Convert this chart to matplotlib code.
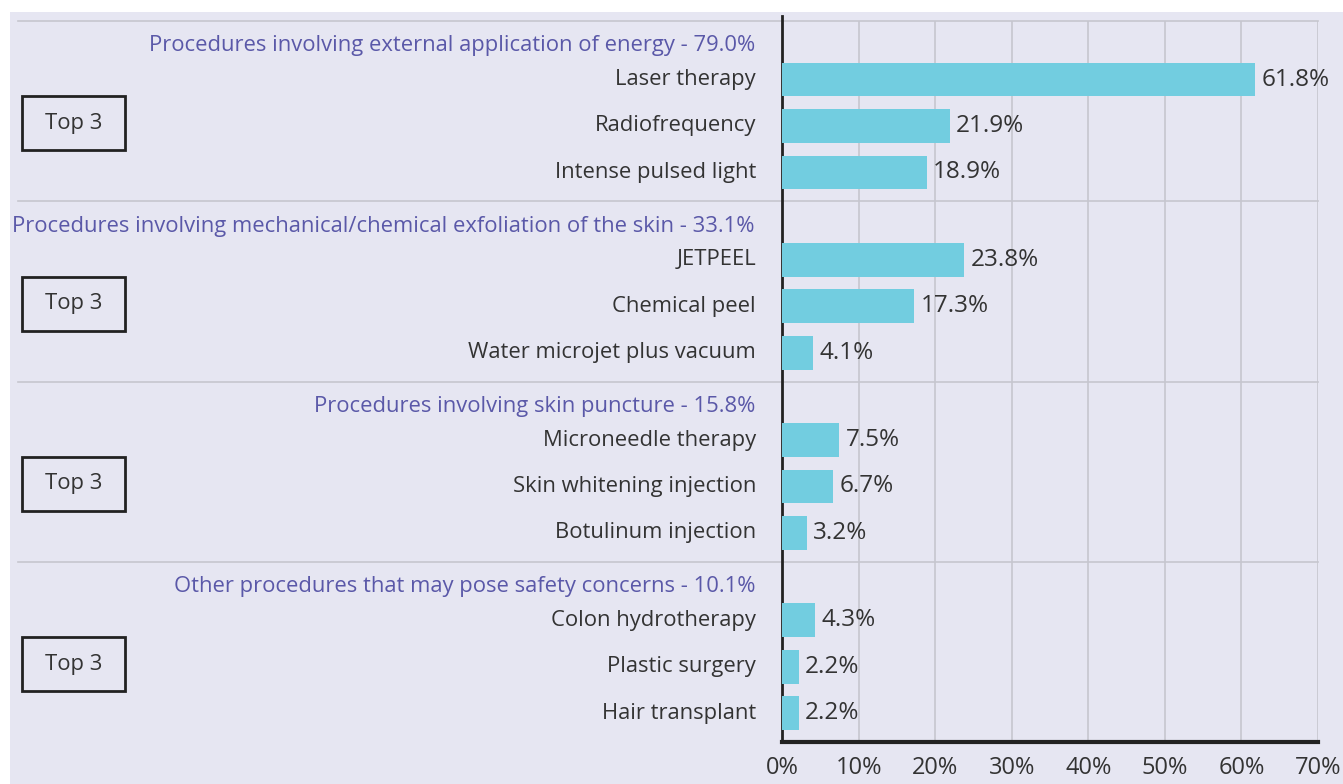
import matplotlib.pyplot as plt
from matplotlib.patches import Rectangle
from matplotlib.transforms import blended_transform_factory

plt.rcParams['font.family'] = ['Open Sans', 'DejaVu Sans']

group_names = ["Procedures involving external application of energy",
               "Procedures involving mechanical/chemical exfoliation of the skin",
               "Procedures involving skin puncture",
               "Other procedures that may pose safety concerns"]
group_pct = [79.0, 33.1, 15.8, 10.1]
items = [["Laser therapy", "Radiofrequency", "Intense pulsed light"],
         ["JETPEEL", "Chemical peel", "Water microjet plus vacuum"],
         ["Microneedle therapy", "Skin whitening injection", "Botulinum injection"],
         ["Colon hydrotherapy", "Plastic surgery", "Hair transplant"]]
values = [[61.8, 21.9, 18.9],
          [23.8, 17.3, 4.1],
          [7.5, 6.7, 3.2],
          [4.3, 2.2, 2.2]]
xticks = [0, 10, 20, 30, 40, 50, 60, 70]

W, H = 1343, 784
bar_color = '#72cde0'
head_color = '#5a58a8'
text_color = '#333333'
grid_color = '#c6c6ce'
fs = 15.8

fig = plt.figure(figsize=(W / 100, H / 100), dpi=100, facecolor='white')
# lavender panel
fig.add_artist(Rectangle((10 / W, 0), 1 - 10 / W, (H - 12) / H, transform=fig.transFigure,
                         facecolor='#e6e6f2', edgecolor='none', zorder=0))

ax = fig.add_axes([782 / W, 1 - 742 / H, (1318 - 782) / W, (742 - 21) / H])
ax.set_facecolor('none')
ax.set_xlim(0, 70)
ax.set_ylim(16, 0)

lbl_tr = blended_transform_factory(fig.transFigure, ax.transData)
for g in range(4):
    base = 4 * g
    ypos = [base + 1.3, base + 2.33, base + 3.36]
    ax.barh(ypos, values[g], height=0.75, color=bar_color, zorder=3)
    for y, v, name in zip(ypos, values[g], items[g]):
        ax.text(v + 0.8, y, f"{v:.1f}%", va='center', ha='left', fontsize=17.5, color=text_color)
        ax.text(756 / W, y, name, transform=lbl_tr, va='center', ha='right',
                fontsize=fs, color=text_color)
    ax.text(755 / W, base + 0.55, f"{group_names[g]} - {group_pct[g]:.1f}%", transform=lbl_tr,
            va='center', ha='right', fontsize=15.8, color=head_color)
    # separator line
    ax.plot([18 / W, 1318 / W], [base, base], transform=lbl_tr, color=grid_color,
            lw=1.2, clip_on=False, zorder=1)
    # Top 3 box
    cy = base + 2.27
    ax.add_patch(Rectangle((22 / W, cy - 0.6), 103 / W, 1.2, transform=lbl_tr, fill=False,
                           edgecolor='#222222', lw=2, clip_on=False))
    ax.text(73.5 / W, cy, "Top 3", transform=lbl_tr, va='center', ha='center',
            fontsize=fs, color=text_color)

ax.set_xticks(xticks)
ax.set_xticklabels([f"{t}%" for t in xticks], fontsize=17, color=text_color)
ax.set_yticks([])
ax.tick_params(axis='x', length=0, pad=10)
ax.grid(axis='x', color=grid_color, lw=1.2, zorder=0)
for s in ['top', 'right']:
    ax.spines[s].set_visible(False)
ax.spines['left'].set_linewidth(2)
ax.spines['left'].set_color('#222222')
ax.spines['left'].set_bounds(16, -0.1)
ax.spines['bottom'].set_linewidth(3)
ax.spines['bottom'].set_color('#222222')

fig.savefig('out.png', dpi=100, facecolor='white')
